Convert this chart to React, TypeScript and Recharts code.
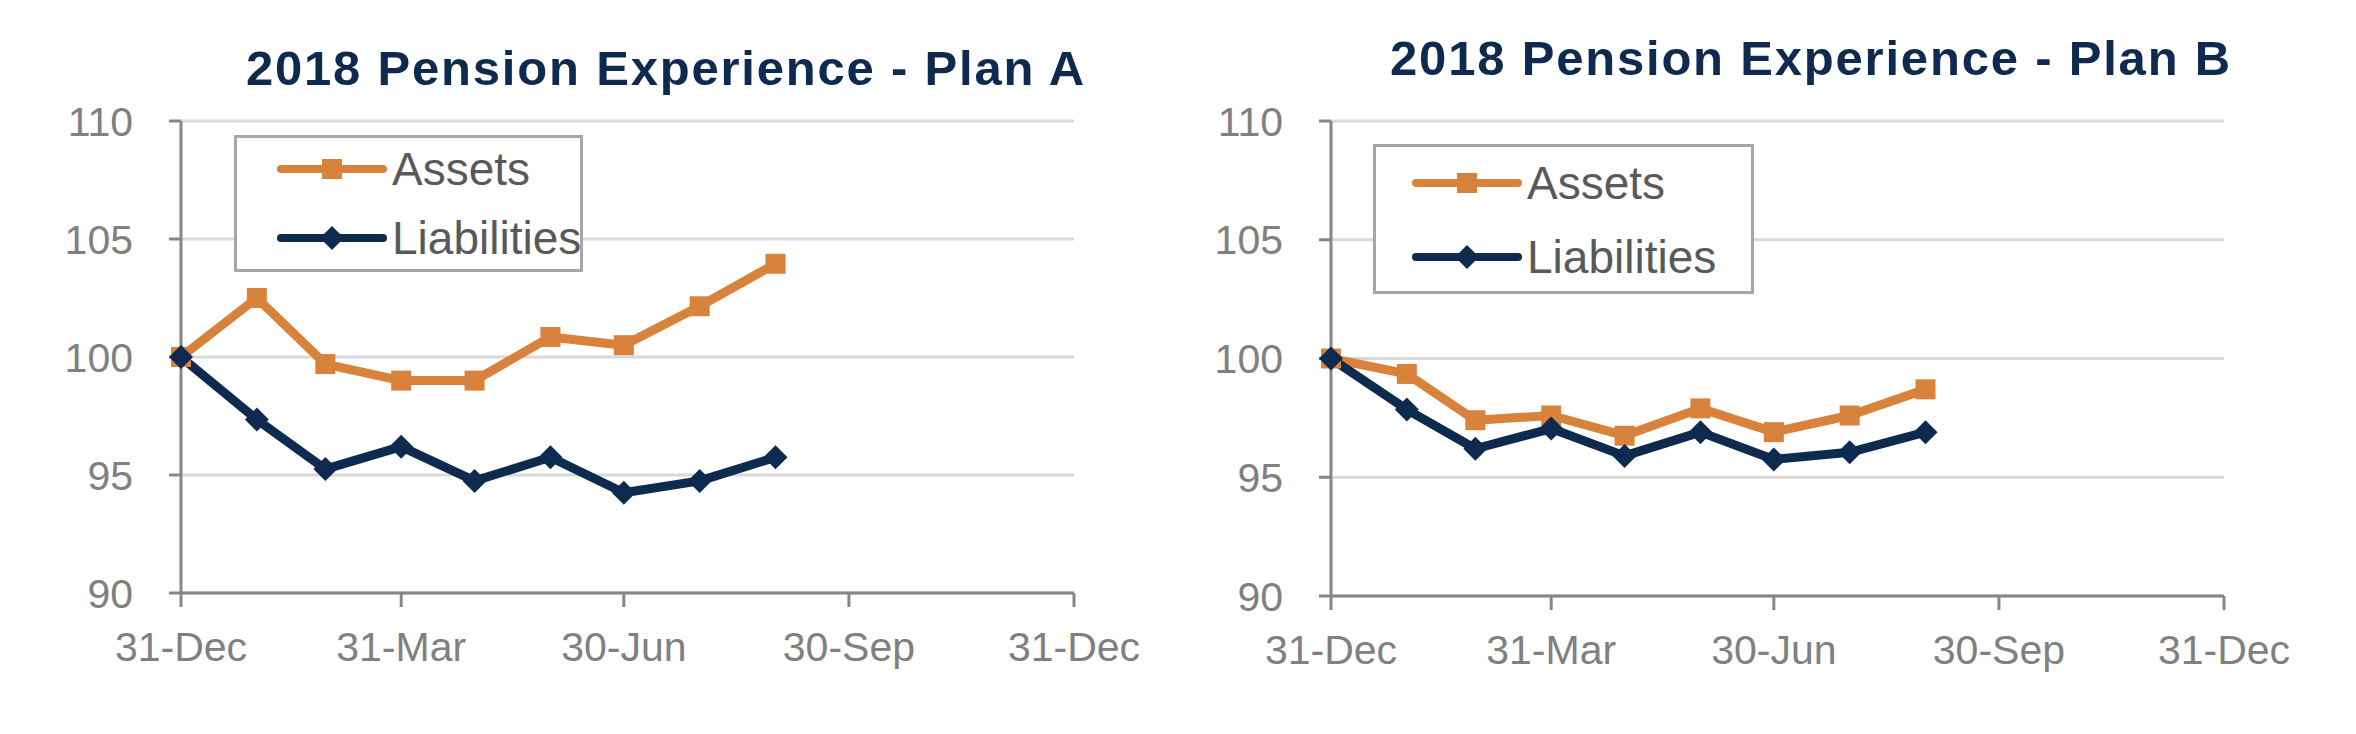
import React from 'react'
import { LineChart, Line, XAxis, YAxis, CartesianGrid, Legend } from 'recharts'

// days since 31-Dec-2017 (month ends)
const days = [0, 31, 59, 90, 120, 151, 181, 212, 243]

const planAAssets = [100, 102.5, 99.7, 99.0, 99.0, 100.85, 100.5, 102.15, 103.95]
const planALiabilities = [100, 97.35, 95.25, 96.2, 94.75, 95.75, 94.25, 94.75, 95.75]

const planBAssets = [100, 99.35, 97.4, 97.6, 96.75, 97.9, 96.9, 97.6, 98.7]
const planBLiabilities = [100, 97.85, 96.2, 97.05, 95.9, 96.9, 95.75, 96.05, 96.9]

const xTicks = [0, 90, 181, 273, 365]
const xTickLabels = ['31-Dec', '31-Mar', '30-Jun', '30-Sep', '31-Dec']
const yTicks = [90, 95, 100, 105, 110]

const FONT = '"Liberation Sans", Arial, sans-serif'
const ORANGE = '#D9823B'
const NAVY = '#0F2A4F'
const AXIS = '#868686'
const GRID = '#D9D9D9'

const buildRows = (assets: number[], liabilities: number[]) =>
  days.map((d, i) => ({ day: d, assets: assets[i], liabilities: liabilities[i] }))

const SquareDot = (props: any) => {
  const { cx, cy, index } = props
  if (cx == null || cy == null) return <g key={index} />
  return <rect key={index} x={cx - 10} y={cy - 10} width={20} height={20} fill={ORANGE} />
}

const DiamondDot = (props: any) => {
  const { cx, cy, index } = props
  if (cx == null || cy == null) return <g key={index} />
  const r = 12
  return (
    <polygon
      key={index}
      points={`${cx},${cy - r} ${cx + r},${cy} ${cx},${cy + r} ${cx - r},${cy}`}
      fill={NAVY}
    />
  )
}

interface LegendBoxProps {
  lineLeft: number
  rowTops: number[]
}

const LegendBox = ({ lineLeft, rowTops }: LegendBoxProps) => {
  const items = [
    { name: 'Assets', color: ORANGE, marker: 'square' },
    { name: 'Liabilities', color: NAVY, marker: 'diamond' },
  ]
  return (
    <div
      style={{
        position: 'relative',
        width: '100%',
        height: '100%',
        boxSizing: 'border-box',
        border: '3px solid #A6A6A6',
        background: '#fff',
      }}
    >
      {items.map((it, i) => (
        <div
          key={it.name}
          style={{
            position: 'absolute',
            left: lineLeft - 3,
            top: rowTops[i] - 3 - 25,
            height: 50,
            display: 'flex',
            alignItems: 'center',
          }}
        >
          <svg width={110} height={50} style={{ display: 'block' }}>
            <line x1={4} y1={25} x2={106} y2={25} stroke={it.color} strokeWidth={8} strokeLinecap="round" />
            {it.marker === 'square' ? (
              <rect x={45} y={15} width={20} height={20} fill={it.color} />
            ) : (
              <polygon points="55,13 67,25 55,37 43,25" fill={it.color} />
            )}
          </svg>
          <span style={{ fontFamily: FONT, fontSize: 46, color: '#595959', marginLeft: 5, lineHeight: '50px', whiteSpace: 'nowrap' }}>
            {it.name}
          </span>
        </div>
      ))}
    </div>
  )
}

interface PanelProps {
  left: number
  title: string
  titleCenter: number
  titleBaseline: number
  assets: number[]
  liabilities: number[]
  plot: { left: number; right: number; top: number; bottom: number }
  legend: { left: number; top: number; width: number; height: number; lineLeft: number; rowTops: number[] }
}

const W = 1178
const H = 734
const Y_AXIS_W = 100
const X_AXIS_H = 80

const Panel = ({ left, title, titleCenter, titleBaseline, assets, liabilities, plot, legend }: PanelProps) => {
  const rows = buildRows(assets, liabilities)
  return (
    <div style={{ position: 'absolute', left, top: 0, width: W, height: H }}>
      <svg width={W} height={H} style={{ position: 'absolute', left: 0, top: 0, pointerEvents: 'none' }}>
        <text
          x={titleCenter - left}
          y={titleBaseline}
          textAnchor="middle"
          fontFamily={FONT}
          fontWeight="bold"
          fontSize={49}
          letterSpacing={1.8}
          fill={NAVY}
        >
          {title}
        </text>
      </svg>
      <LineChart
        width={W}
        height={H}
        data={rows}
        margin={{
          top: plot.top,
          right: W - (plot.right - left),
          bottom: H - plot.bottom - X_AXIS_H,
          left: plot.left - left - Y_AXIS_W,
        }}
        style={{ position: 'absolute', left: 0, top: 0 }}
      >
        <CartesianGrid vertical={false} stroke={GRID} strokeWidth={3} />
        <XAxis
          dataKey="day"
          type="number"
          domain={[0, 365]}
          ticks={xTicks}
          tickFormatter={(v: number) => xTickLabels[xTicks.indexOf(v)] ?? ''}
          height={X_AXIS_H}
          stroke={AXIS}
          strokeWidth={3}
          tickSize={14}
          tickMargin={25}
          tick={{ fill: '#808080', fontSize: 41, fontFamily: FONT }}
          tickLine={{ stroke: AXIS, strokeWidth: 3 }}
          interval={0}
        />
        <YAxis
          type="number"
          domain={[90, 110]}
          ticks={yTicks}
          width={Y_AXIS_W}
          stroke={AXIS}
          strokeWidth={3}
          tickSize={12}
          tickMargin={36}
          tick={{ fill: '#808080', fontSize: 41, fontFamily: FONT }}
          tickLine={{ stroke: AXIS, strokeWidth: 3 }}
          interval={0}
        />
        <Legend
          layout="horizontal"
          verticalAlign="middle"
          align="center"
          content={() => <LegendBox lineLeft={legend.lineLeft} rowTops={legend.rowTops} />}
          wrapperStyle={{
            position: 'absolute',
            left: legend.left - left,
            top: legend.top,
            width: legend.width,
            height: legend.height,
          }}
        />
        <Line
          dataKey="assets"
          name="Assets"
          stroke={ORANGE}
          strokeWidth={9}
          strokeLinejoin="round"
          dot={SquareDot}
          activeDot={false}
          isAnimationActive={false}
        />
        <Line
          dataKey="liabilities"
          name="Liabilities"
          stroke={NAVY}
          strokeWidth={9}
          strokeLinejoin="round"
          dot={DiamondDot}
          activeDot={false}
          isAnimationActive={false}
        />
      </LineChart>
    </div>
  )
}

export default function App() {
  return (
    <div style={{ position: 'absolute', left: 0, top: 0, width: 2356, height: 734, background: '#fff' }}>
      <Panel
        left={0}
        title="2018 Pension Experience - Plan A"
        titleCenter={666}
        titleBaseline={85}
        assets={planAAssets}
        liabilities={planALiabilities}
        plot={{ left: 181, right: 1074, top: 121, bottom: 593 }}
        legend={{ left: 234, top: 135, width: 349, height: 137, lineLeft: 43, rowTops: [34, 103] }}
      />
      <Panel
        left={1178}
        title="2018 Pension Experience - Plan B"
        titleCenter={1811}
        titleBaseline={75}
        assets={planBAssets}
        liabilities={planBLiabilities}
        plot={{ left: 1331, right: 2224, top: 121, bottom: 596 }}
        legend={{ left: 1373, top: 144, width: 381, height: 150, lineLeft: 39, rowTops: [39, 113] }}
      />
    </div>
  )
}
